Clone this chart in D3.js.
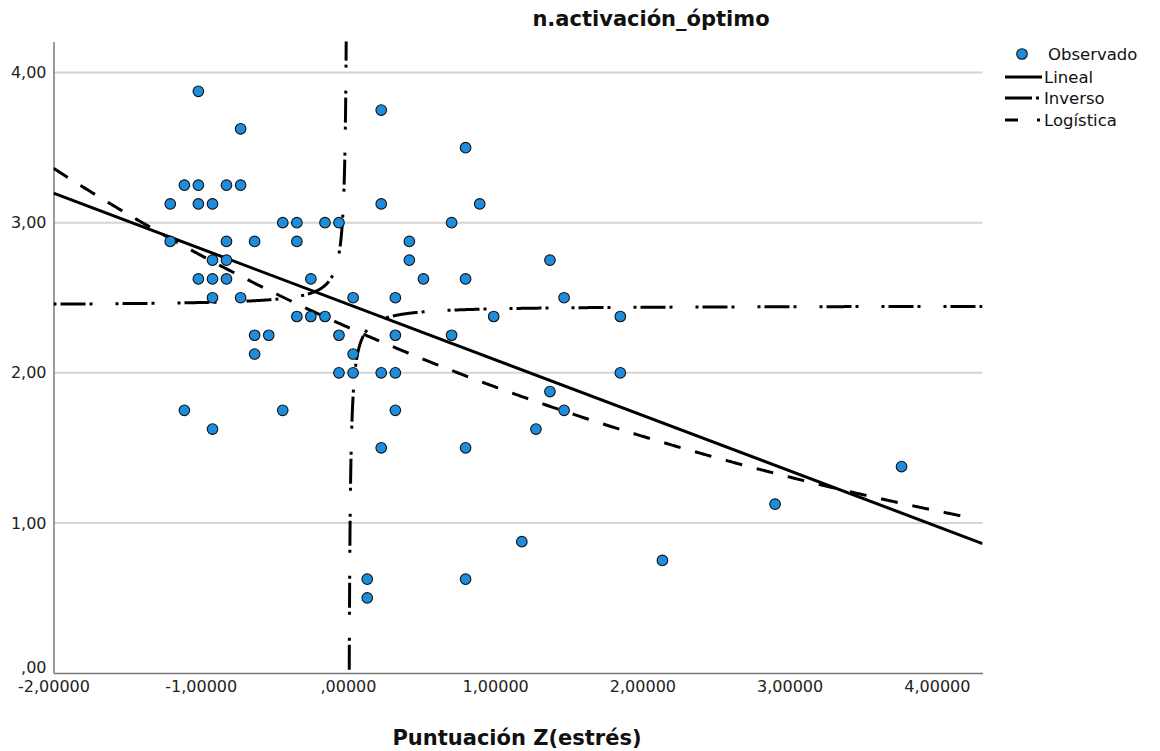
<!DOCTYPE html>
<html>
<head>
<meta charset="utf-8">
<script src="https://cdn.jsdelivr.net/npm/d3@7"></script>
<style>
  body { margin: 0; background: #fff; }
  svg { display: block; font-family: "DejaVu Sans", sans-serif; }
</style>
</head>
<body>
<svg id="chart" width="1160" height="751"></svg>
<script>
// observed points: Z(estrés) and n.activación_óptimo, read column by column
var zEstres = [
  -1.207, -1.207,
  -1.111, -1.111,
  -1.016, -1.016, -1.016, -1.016,
  -0.920, -0.920, -0.920, -0.920, -0.920,
  -0.825, -0.825, -0.825, -0.825,
  -0.729, -0.729, -0.729,
  -0.634, -0.634, -0.634,
  -0.538,
  -0.443, -0.443,
  -0.347, -0.347, -0.347,
  -0.252, -0.252,
  -0.156, -0.156,
  -0.061, -0.061, -0.061,
  0.035, 0.035, 0.035,
  0.131, 0.131,
  0.226, 0.226, 0.226, 0.226,
  0.322, 0.322, 0.322, 0.322,
  0.417, 0.417,
  0.513,
  0.704, 0.704,
  0.799, 0.799, 0.799, 0.799,
  0.895,
  0.990,
  1.181,
  1.277,
  1.372, 1.372,
  1.468, 1.468,
  1.850, 1.850,
  2.136,
  2.901,
  3.760
];
var activacion = [
  3.125, 2.875,
  3.25, 1.75,
  3.875, 3.25, 3.125, 2.625,
  3.125, 2.75, 2.625, 2.5, 1.625,
  3.25, 2.875, 2.75, 2.625,
  3.625, 3.25, 2.5,
  2.875, 2.25, 2.125,
  2.25,
  3.0, 1.75,
  3.0, 2.875, 2.375,
  2.625, 2.375,
  3.0, 2.375,
  3.0, 2.25, 2.0,
  2.5, 2.125, 2.0,
  0.625, 0.5,
  3.75, 3.125, 2.0, 1.5,
  2.5, 2.25, 2.0, 1.75,
  2.875, 2.75,
  2.625,
  3.0, 2.25,
  3.5, 2.625, 1.5, 0.625,
  3.125,
  2.375,
  0.875,
  1.625,
  2.75, 1.875,
  2.5, 1.75,
  2.375, 2.0,
  0.75,
  1.125,
  1.375
];

// fitted models (coefficients)
var linealCoef = [2.457, -0.370];      // y = b0 + b1*x
var inversoCoef = [2.447, -0.021];     // y = b0 + b1/x
var logisticaCoef = [0.4342, 1.2084];  // y = 1 / (b0 * b1^x)

var xTicks = [-2, -1, 0, 1, 2, 3, 4];
var yTicks = [0, 1, 2, 3, 4];
var legendItems = ["Observado", "Lineal", "Inverso", "Logística"];

var svg = d3.select("#chart");
var plotLeft = 53.5, plotRight = 982.5, plotTop = 41.5, plotBottom = 673;

var x = d3.scaleLinear().domain([-2, 4.31]).range([plotLeft, plotRight]);
var y = d3.scaleLinear().domain([0, 4.207]).range([plotBottom, plotTop]);

var fmtX = function (d) {
  var s = d3.format(".5f")(d).replace(".", ",").replace("−", "-");
  return s.replace(/^0,/, ",").replace(/^-0,/, "-,");
};
var fmtY = function (d) {
  return d3.format(".2f")(d).replace(".", ",").replace(/^0,/, ",");
};

svg.append("defs").append("clipPath").attr("id", "plotclip")
  .append("rect").attr("x", plotLeft).attr("y", plotTop)
  .attr("width", plotRight - plotLeft).attr("height", plotBottom - plotTop);

// gridlines
svg.append("g").selectAll("line")
  .data(yTicks.filter(function (d) { return d > 0; }))
  .enter().append("line")
  .attr("x1", plotLeft).attr("x2", plotRight)
  .attr("y1", function (d) { return y(d); })
  .attr("y2", function (d) { return y(d); })
  .attr("stroke", "#d4d4d4").attr("stroke-width", 2);

// axes without tick marks, like SPSS
var gx = svg.append("g").attr("transform", "translate(0," + plotBottom + ")")
  .call(d3.axisBottom(x).tickValues(xTicks).tickSize(0).tickPadding(8).tickFormat(fmtX));
gx.select(".domain").attr("stroke", "#7a7a7a").attr("stroke-width", 1.5);
gx.selectAll("text").attr("font-size", 16).attr("fill", "#222").attr("font-family", "DejaVu Sans");

var gy = svg.append("g").attr("transform", "translate(" + plotLeft + ",0)")
  .call(d3.axisLeft(y).tickValues(yTicks).tickSize(0).tickPadding(7).tickFormat(fmtY));
gy.select(".domain").attr("stroke", "#7a7a7a").attr("stroke-width", 1.5);
gy.selectAll("text").attr("font-size", 16).attr("fill", "#222").attr("font-family", "DejaVu Sans");
gy.selectAll(".tick").filter(function (d) { return d === 0; }).select("text").attr("dy", "-0.05em");

// model curves
var plot = svg.append("g").attr("clip-path", "url(#plotclip)");
var line = d3.line().x(function (d) { return x(d[0]); }).y(function (d) { return y(d[1]); });

var xs = d3.range(0, 601).map(function (i) { return -2 + i * 6.31 / 600; });

var linealPts = [-2, 4.31].map(function (v) { return [v, linealCoef[0] + linealCoef[1] * v]; });
var logPts = xs.filter(function (v) { return v <= 4.2; })
  .map(function (v) { return [v, 1 / (logisticaCoef[0] * Math.pow(logisticaCoef[1], v))]; });

// inverse has a pole at 0, draw each branch separately
var negX = d3.range(-2, -0.006, 0.002).concat([-0.005, -0.004]);
var posX = [0.008].concat(d3.range(0.01, 4.311, 0.002));
var invNeg = negX.map(function (v) { return [v, inversoCoef[0] + inversoCoef[1] / v]; });
var invPos = posX.map(function (v) { return [v, inversoCoef[0] + inversoCoef[1] / v]; }).reverse();

plot.append("path").attr("d", line(invNeg)).attr("fill", "none")
  .attr("stroke", "#000").attr("stroke-width", 3).attr("stroke-dasharray", "3,4,25,4,3,23");
plot.append("path").attr("d", line(invPos)).attr("fill", "none")
  .attr("stroke", "#000").attr("stroke-width", 3).attr("stroke-dasharray", "3,4,25,4,3,23");
plot.append("path").attr("d", line(logPts)).attr("fill", "none")
  .attr("stroke", "#000").attr("stroke-width", 3).attr("stroke-dasharray", "17,15");
plot.append("path").attr("d", line(linealPts)).attr("fill", "none")
  .attr("stroke", "#000").attr("stroke-width", 3);

// points
svg.append("g").selectAll("circle")
  .data(zEstres.map(function (v, i) { return [v, activacion[i]]; }))
  .enter().append("circle")
  .attr("cx", function (d) { return x(d[0]); })
  .attr("cy", function (d) { return y(d[1]); })
  .attr("r", 5.3)
  .attr("fill", "#1d8ddc").attr("stroke", "#111").attr("stroke-width", 1.1);

// titles
svg.append("text").attr("x", 651).attr("y", 26).attr("text-anchor", "middle")
  .attr("font-size", 21).attr("font-weight", "bold").attr("fill", "#111")
  .text("n.activación_óptimo");
svg.append("text").attr("x", 517).attr("y", 745).attr("text-anchor", "middle")
  .attr("font-size", 21).attr("font-weight", "bold").attr("fill", "#111")
  .text("Puntuación Z(estrés)");

// legend
var lg = svg.append("g");
var rowY = [54, 77, 98, 120];
lg.append("circle").attr("cx", 1022).attr("cy", rowY[0]).attr("r", 5.3)
  .attr("fill", "#1d8ddc").attr("stroke", "#111").attr("stroke-width", 1.1);
lg.append("line").attr("x1", 1005).attr("x2", 1042).attr("y1", rowY[1]).attr("y2", rowY[1])
  .attr("stroke", "#000").attr("stroke-width", 3);
lg.append("line").attr("x1", 1005).attr("x2", 1040).attr("y1", rowY[2]).attr("y2", rowY[2])
  .attr("stroke", "#000").attr("stroke-width", 3).attr("stroke-dasharray", "27,4,3,10");
lg.append("line").attr("x1", 1005).attr("x2", 1042).attr("y1", rowY[3]).attr("y2", rowY[3])
  .attr("stroke", "#000").attr("stroke-width", 3).attr("stroke-dasharray", "13,19,3,10");
lg.selectAll("text").data(legendItems).enter().append("text")
  .attr("x", function (d, i) { return i === 0 ? 1048 : 1044; })
  .attr("y", function (d, i) { return rowY[i]; })
  .attr("dy", "0.35em")
  .attr("font-size", 16.5).attr("fill", "#111")
  .text(function (d) { return d; });
</script>
</body>
</html>
